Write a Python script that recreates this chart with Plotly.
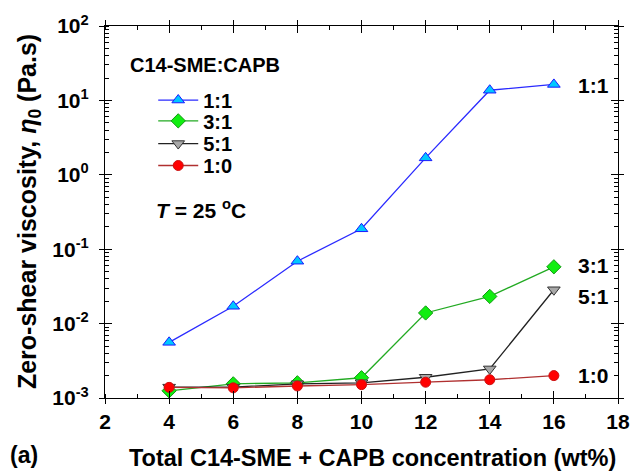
import math
import plotly.graph_objects as go

conc = [4, 6, 8, 10, 12, 14, 16]
ratios = ["1:1", "3:1", "5:1", "1:0"]
visc_1_1 = [0.0056, 0.0171, 0.069, 0.188, 1.69, 13.7, 16.4]
visc_3_1 = [0.00125, 0.00155, 0.0016, 0.00187, 0.0139, 0.0232, 0.058]
visc_5_1 = [0.0014, 0.0014, 0.00155, 0.0016, 0.0019, 0.00246, 0.0285]
visc_1_0 = [0.00139, 0.00137, 0.00145, 0.00151, 0.00163, 0.00176, 0.0020]

ytick_vals = [1e-3, 1e-2, 1e-1, 1e0, 1e1, 1e2]
ytick_text = ["10<sup>-3</sup>", "10<sup>-2</sup>", "10<sup>-1</sup>",
              "10<sup>0</sup>", "10<sup>1</sup>", "10<sup>2</sup>"]
xtick_vals = [2, 4, 6, 8, 10, 12, 14, 16, 18]

# style: line colour, fill, outline, symbol, size, label y-shift, legend id, legend y
styles = [
    ("#2a2aff", "#00c8ff", "#1a1aff", "triangle-up", 11, -1, "legend", 0.801),
    ("#22aa22", "#11ee11", "#119911", "diamond", 11, 1, "legend2", 0.745),
    ("#222222", "#a8a8a8", "#333333", "triangle-down", 11, -7, "legend3", 0.684),
    ("#b03030", "#ff0000", "#cc1111", "circle", 10, 0, "legend4", 0.625),
]
data = [visc_1_1, visc_3_1, visc_5_1, visc_1_0]

font = "Liberation Sans, Arial, sans-serif"
fig = go.Figure()
legends = {}
for name, vals, st in zip(ratios, data, styles):
    lc, fc, oc, sym, sz, lys, lid, legy = st
    fig.add_trace(go.Scatter(
        x=conc, y=vals, name="<b>%s</b>" % name, mode="lines+markers",
        line=dict(color=lc, width=1.3), legend=lid,
        marker=dict(symbol=sym, size=sz, color=fc, line=dict(color=oc, width=1)),
    ))
    fig.add_annotation(x=conc[-1], y=math.log10(vals[-1]),
                       text="<b>%s</b>" % name, showarrow=False,
                       xanchor="left", xshift=22, yshift=lys,
                       font=dict(size=21, color="black"))
    legends[lid] = dict(x=0.094, y=legy, xanchor="left", yanchor="middle",
                        bgcolor="rgba(0,0,0,0)", font=dict(size=20, family=font),
                        itemwidth=40)

# invisible trace for overlay axes
fig.add_trace(go.Scatter(x=[None], y=[None], xaxis="x2", yaxis="y2", showlegend=False))

fig.update_layout(
    width=642, height=473,
    margin=dict(l=105, r=14, t=22, b=75),
    paper_bgcolor="white", plot_bgcolor="white",
    font=dict(family=font, size=17, color="black"),
    showlegend=True,
    xaxis=dict(range=[2, 18], tickvals=xtick_vals,
               ticktext=["<b>%d</b>" % v for v in xtick_vals],
               tickfont=dict(size=21),
               ticks="outside", ticklen=5, tickwidth=1.2, tickcolor="black",
               showline=True, linecolor="black", linewidth=1.2, mirror="allticks",
               showgrid=False, zeroline=False,
               minor=dict(dtick=1, ticks="inside", ticklen=4, tickcolor="black", showgrid=False)),
    yaxis=dict(type="log", range=[-3, 2], tickvals=ytick_vals,
               ticktext=["<b>%s</b>" % t for t in ytick_text],
               tickfont=dict(size=21), ticklabelstandoff=6,
               ticks="outside", ticklen=5, tickwidth=1.2, tickcolor="black",
               showline=True, linecolor="black", linewidth=1.2, mirror="allticks",
               showgrid=False, zeroline=False,
               minor=dict(dtick="D1", ticks="inside", ticklen=4, tickcolor="black", showgrid=False)),
    xaxis2=dict(overlaying="x", range=[2, 18], tickvals=xtick_vals, showticklabels=False,
                ticks="inside", ticklen=7, tickwidth=1.2, tickcolor="black",
                mirror="allticks", showline=False, showgrid=False, zeroline=False),
    yaxis2=dict(overlaying="y", type="log", range=[-3, 2], tickvals=ytick_vals,
                showticklabels=False, ticks="inside", ticklen=7, tickwidth=1.2,
                tickcolor="black", mirror="allticks", showline=False,
                showgrid=False, zeroline=False),
    **legends,
)

fig.add_annotation(xref="paper", yref="paper", x=-0.148, y=0.5, xanchor="center",
                   yanchor="middle", textangle=-90,
                   text="<b>Zero-shear viscosity, <i>η</i><sub>0</sub> (Pa.s)</b>",
                   showarrow=False, font=dict(size=25))
fig.add_annotation(xref="paper", yref="paper", x=0.522, y=-0.16, xanchor="center",
                   yanchor="middle",
                   text="<b>Total C14-SME + CAPB concentration (wt%)</b>",
                   showarrow=False, font=dict(size=23.5))
fig.add_annotation(xref="paper", yref="paper", x=0.044, y=0.896, xanchor="left",
                   yanchor="middle", text="<b>C14-SME:CAPB</b>", showarrow=False,
                   font=dict(size=20))
fig.add_annotation(xref="paper", yref="paper", x=0.095, y=0.508, xanchor="left",
                   yanchor="middle", text="<b><i>T</i> = 25 <sup>o</sup>C</b>",
                   showarrow=False, font=dict(size=21))
fig.add_annotation(xref="paper", yref="paper", x=-0.19, y=-0.154, xanchor="left",
                   yanchor="middle", text="<b>(a)</b>", showarrow=False,
                   font=dict(size=23))

fig.write_html("out.html")
